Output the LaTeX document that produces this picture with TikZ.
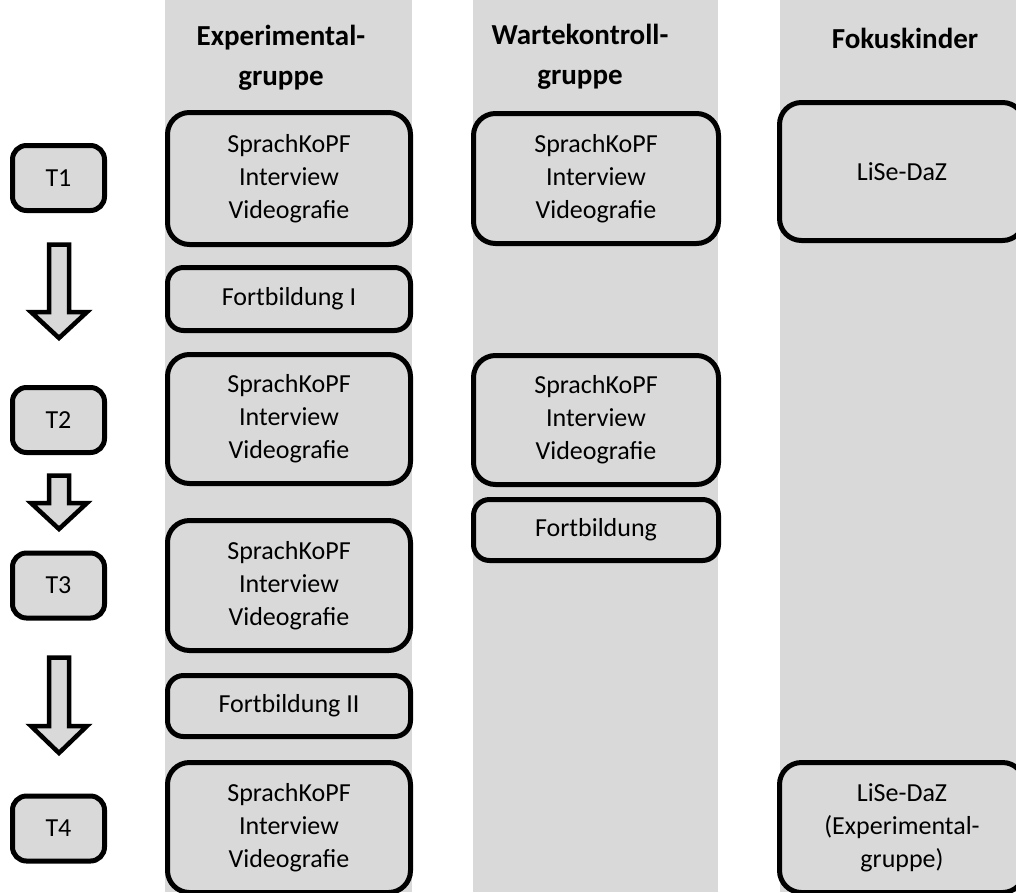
\documentclass[tikz,border=0pt]{standalone}
\usepackage{fontspec}
\setmainfont{Carlito}
\usetikzlibrary{positioning}

\definecolor{bandgray}{HTML}{D9D9D9}

\tikzset{
  band/.style={fill=bandgray, draw=none},
  stepbox/.style={draw, line width=5pt, fill=bandgray, rounded corners=22pt,
    align=center, inner sep=0pt, font=\fontsize{26}{33}\selectfont},
  shortbox/.style={stepbox, rounded corners=16pt},
  timebox/.style={stepbox, rounded corners=14pt, minimum width=92pt, minimum height=65pt},
  header/.style={align=center, inner sep=0pt, font=\bfseries\fontsize{29}{40}\selectfont},
  blockarrow/.style={draw, line width=4.5pt, fill=bandgray, line join=miter}
}

% block arrow pointing down: x, top of shaft, base of head, tip
\newcommand{\downblock}[4]{%
  \draw[blockarrow] ({#1-10},#2) -- ({#1+10},#2) -- ({#1+10},#3) -- ({#1+28},#3)
    -- (#1,#4) -- ({#1-28},#3) -- ({#1-10},#3) -- cycle;}

\begin{document}
\begin{tikzpicture}[x=1pt,y=-1pt]
    \useasboundingbox (0,0) rectangle (1016,892);
    % columns
    \fill[band] (165,0) rectangle (412,892);
    \fill[band] (473,0) rectangle (718,892);
    \fill[band] (780,0) rectangle (1030,892);

    \node[header] (hexp) at (281,58) {Experimental-\\gruppe};
    \node[header] (hwait) at (580,57) {Wartekontroll-\\gruppe};
    \node[header, anchor=base] (hfocus) at (905,48) {Fokuskinder};

    % time points
    \node[timebox] (t1) at (58.5,178) {T1};
    \node[timebox] (t2) at (58.5,420) {T2};
    \node[timebox] (t3) at (58.5,585.5) {T3};
    \node[timebox] (t4) at (58.5,828.5) {T4};

    \downblock{59}{244.5}{312}{338}
    \downblock{59}{475.5}{503}{529}
    \downblock{59}{657.5}{726}{753}

    % Experimentalgruppe
    \node[stepbox, minimum width=243pt, minimum height=132pt] (exp1) at (289,178.5) {SprachKoPF\\Interview\\Videografie};
    \node[shortbox, minimum width=243pt, minimum height=63pt] (fb1) at (289,299) {Fortbildung I};
    \node[stepbox, minimum width=243pt, minimum height=129pt] (exp2) at (289,419) {SprachKoPF\\Interview\\Videografie};
    \node[stepbox, minimum width=243pt, minimum height=130pt] (exp3) at (289,585.5) {SprachKoPF\\Interview\\Videografie};
    \node[shortbox, minimum width=243pt, minimum height=61pt] (fb2) at (289,706) {Fortbildung II};
    \node[stepbox, minimum width=243pt, minimum height=130pt] (exp4) at (289,827.5) {SprachKoPF\\Interview\\Videografie};

    % Wartekontrollgruppe
    \node[stepbox, minimum width=245pt, minimum height=130pt] (wkg1) at (596,178.5) {SprachKoPF\\Interview\\Videografie};
    \node[stepbox, minimum width=245pt, minimum height=129pt] (wkg2) at (596,420) {SprachKoPF\\Interview\\Videografie};
    \node[shortbox, minimum width=245pt, minimum height=61pt] (fbw) at (596,530) {Fortbildung};

    % Fokuskinder
    \node[stepbox, minimum width=245pt, minimum height=138pt] (lise1) at (902,171.5) {LiSe-DaZ};
    \node[stepbox, minimum width=245pt, minimum height=130pt] (lise2) at (902,827.5) {LiSe-DaZ\\(Experimental-\\gruppe)};
\end{tikzpicture}
\end{document}
